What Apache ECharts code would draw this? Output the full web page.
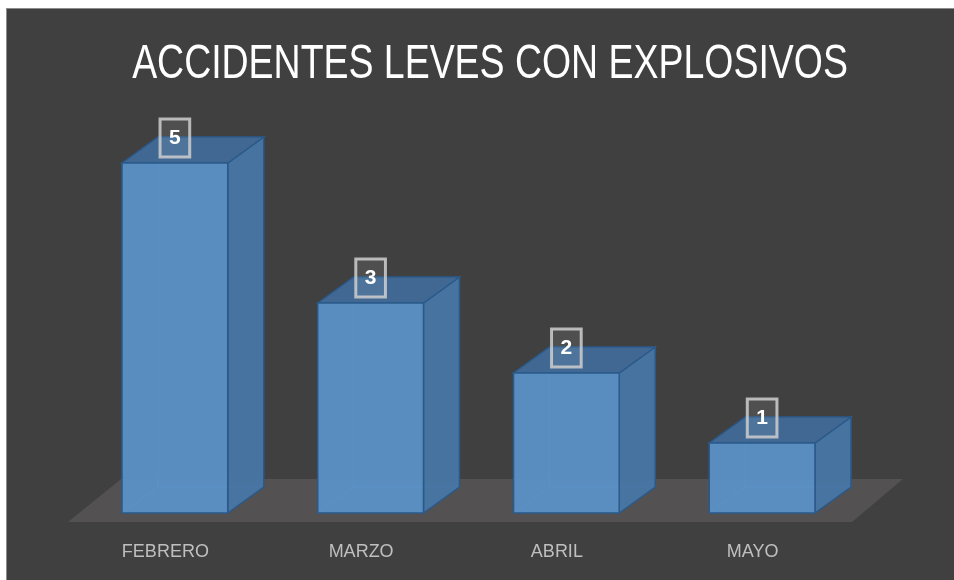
<!DOCTYPE html>
<html>
<head>
<meta charset="utf-8">
<script src="https://cdn.jsdelivr.net/npm/echarts@6/dist/echarts.min.js"></script>
<style>
  body { margin: 0; background: #fff; }
  #frame { position: absolute; left: 6px; top: 8px; border-left: 1px solid #8c8c8c; border-top: 1px solid #8c8c8c; }
  #main { width: 947px; height: 571px; background: #404040; }
</style>
</head>
<body>
<div id="frame"><div id="main"></div></div>
<script>
var categories = ['FEBRERO', 'MARZO', 'ABRIL', 'MAYO'];
var values = [5, 3, 2, 1];
var titulo = 'ACCIDENTES LEVES CON EXPLOSIVOS';

var myChart = echarts.init(document.getElementById('main'));

// profundidad de las cajas 3D
var DX = 36, DY = -26;

function renderFloor(params, api) {
    var band = api.size([1, 0])[0];
    var p0 = api.coord([0, 0]);
    var p3 = api.coord([categories.length - 1, 0]);
    var x0 = p0[0] - band / 2, x1 = p3[0] + band / 2, y0 = p0[1];
    return {
        type: 'polygon',
        shape: { points: [[x0 - 9, y0 + 9], [x1 - 8, y0 + 9], [x1 + 43, y0 - 34], [x0 + 44, y0 - 34]] },
        style: { fill: '#535151' },
        silent: true
    };
}

function renderBar(params, api) {
    var idx = api.value(0), val = api.value(1);
    var top = api.coord([idx, val]);
    var base = api.coord([idx, 0]);
    var band = api.size([1, 0])[0];
    var w = band * 0.54;
    var l = top[0] - w / 2, r = top[0] + w / 2, t = top[1], b = base[1];
    var edge = '#2b5a8a';
    return {
        type: 'group',
        children: [
            // aristas ocultas (se ven por la transparencia)
            { type: 'polyline', shape: { points: [[l, b], [l + DX, b + DY], [r + DX, b + DY]] },
              style: { stroke: 'rgba(110,165,220,0.45)', lineWidth: 1, fill: null } },
            { type: 'line', shape: { x1: l + DX, y1: b + DY, x2: l + DX, y2: t + DY },
              style: { stroke: 'rgba(110,165,220,0.45)', lineWidth: 1 } },
            // cara lateral
            { type: 'polygon', shape: { points: [[r, t], [r + DX, t + DY], [r + DX, b + DY], [r, b]] },
              style: { fill: 'rgba(72,118,165,0.95)', stroke: edge, lineWidth: 1.5 } },
            // cara superior
            { type: 'polygon', shape: { points: [[l, t], [l + DX, t + DY], [r + DX, t + DY], [r, t]] },
              style: { fill: 'rgba(64,106,152,0.95)', stroke: edge, lineWidth: 1.5 } },
            // cara frontal
            { type: 'rect', shape: { x: l, y: t, width: w, height: b - t },
              style: { fill: 'rgba(91,148,203,0.92)', stroke: edge, lineWidth: 1.5 } },
            // etiqueta
            { type: 'text', x: top[0], y: t - 25,
              style: { text: String(val), fill: '#ffffff', font: 'bold 21px "Liberation Sans", sans-serif',
                       align: 'center', verticalAlign: 'middle',
                       backgroundColor: 'rgba(255,255,255,0.08)', borderColor: 'rgba(205,205,205,0.85)',
                       borderWidth: 1.5, padding: [9, 9, 8, 9] } }
        ]
    };
}

myChart.setOption({
    animation: false,
    graphic: [{
        // titulo estrecho (tipo Calibri)
        type: 'text', x: 483, y: 56, scaleX: 0.78,
        style: { text: titulo, fill: '#ffffff', font: '48px "Liberation Sans", sans-serif',
                 align: 'center', verticalAlign: 'middle' }
    }],
    grid: { left: 70, right: 94, top: 154, bottom: 67 },
    xAxis: {
        type: 'category',
        data: categories,
        axisLine: { show: false },
        axisTick: { show: false },
        axisLabel: {
            color: '#bfbfbf', fontSize: 18, margin: 30,
            fontFamily: '"Liberation Sans", sans-serif',
            padding: [0, 19, 0, 0]
        }
    },
    yAxis: { type: 'value', min: 0, max: 5, show: false, splitLine: { show: false } },
    series: [
        { type: 'custom', renderItem: renderFloor, data: [[0, 0]], z: 1, silent: true },
        { type: 'custom', renderItem: renderBar, data: categories.map(function (c, i) { return [i, values[i]]; }), z: 2 }
    ]
});
</script>
</body>
</html>
